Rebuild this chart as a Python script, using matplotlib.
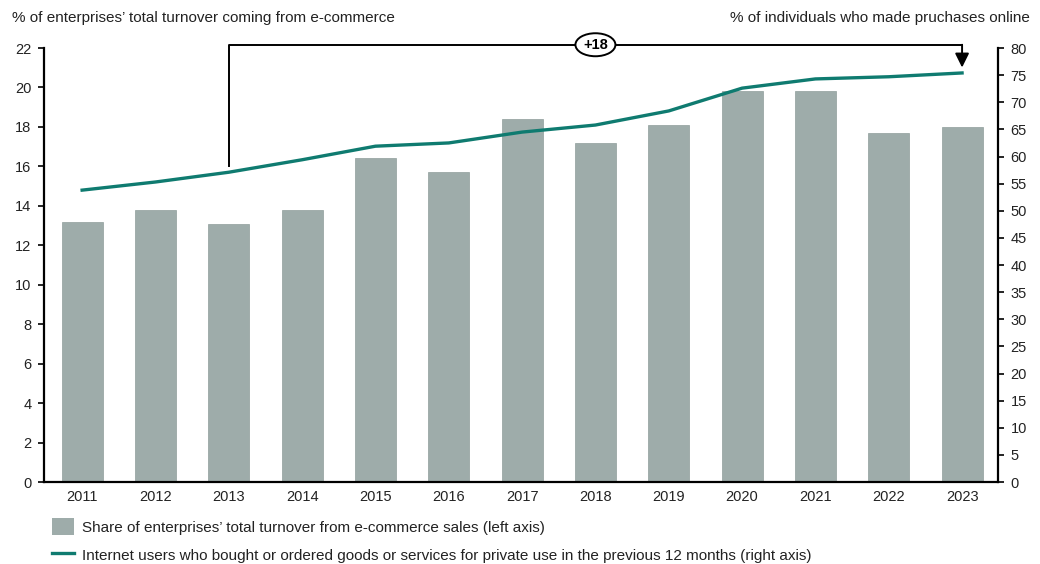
import matplotlib
matplotlib.use("Agg")
import matplotlib.pyplot as plt
from matplotlib.patches import Patch, Ellipse
from matplotlib.lines import Line2D
import numpy as np

plt.rcParams['font.family'] = ['Liberation Sans', 'DejaVu Sans']

years = ["2011", "2012", "2013", "2014", "2015", "2016", "2017",
         "2018", "2019", "2020", "2021", "2022", "2023"]
turnover_share = [13.2, 13.8, 13.1, 13.8, 16.4, 15.7, 18.4,
                  17.2, 18.1, 19.8, 19.8, 17.7, 18.0]
online_buyers = [53.8, 55.3, 57.1, 59.4, 61.9, 62.5, 64.5,
                 65.8, 68.4, 72.6, 74.3, 74.7, 75.4]
left_ticks = list(range(0, 23, 2))
right_ticks = list(range(0, 81, 5))

bar_color = '#9EACAA'
line_color = '#0F7B70'
fs = 10.5
fs_text = 11

fig = plt.figure(figsize=(10.4, 5.64), dpi=100)
W, H = 1040, 564
ax = fig.add_axes([44 / W, (H - 482) / H, (998 - 44) / W, (482 - 48) / H])
ax2 = ax.twinx()

x = np.arange(len(years))
ax.bar(x, turnover_share, width=0.56, color=bar_color, edgecolor='#8F9E9B',
       linewidth=0.5, zorder=2)
ax2.plot(x, online_buyers, color=line_color, lw=2.4, zorder=3)

ax.set_xlim(-0.52, len(years) - 0.51)
ax.set_ylim(0, 22)
ax2.set_ylim(0, 80)
ax.set_yticks(left_ticks)
ax2.set_yticks(right_ticks)
ax.set_xticks(x)
ax.set_xticklabels(years)

for a in (ax, ax2):
    a.spines['top'].set_visible(False)
    for s in a.spines.values():
        s.set_linewidth(1.6)
        s.set_color('black')
ax.spines['right'].set_visible(False)
ax2.spines['left'].set_visible(False)
ax2.spines['bottom'].set_visible(False)

ax.tick_params(axis='y', direction='out', length=4, width=1.2, pad=5,
               labelsize=fs, colors='black', labelcolor='#222222')
ax.tick_params(axis='x', length=0, pad=6, labelsize=fs, labelcolor='#222222')
ax2.tick_params(axis='y', direction='out', length=4, width=1.2, pad=5,
                labelsize=fs, labelcolor='#222222')

# Bracket annotation showing the 2013 -> 2023 change
y_top = 80.6
i0, i1 = 2, 12
change = round(online_buyers[i1] - online_buyers[i0])
ax2.plot([i0, i0, i1], [58.3, y_top, y_top],
         color='black', lw=1.4, zorder=4, clip_on=False)
ax2.annotate('', xy=(i1, 76.4), xytext=(i1, y_top),
             arrowprops=dict(arrowstyle='-|>,head_width=0.42,head_length=0.85',
                             mutation_scale=10, color='black', lw=1.4,
                             shrinkA=0, shrinkB=0),
             zorder=5, annotation_clip=False)

# Oval label sitting on the bracket
xc = (i0 + i1) / 2
disp = ax2.transData.transform((xc, y_top))
fx, fy = fig.transFigure.inverted().transform(disp)
fig.add_artist(Ellipse((fx, fy), 40 / W, 23 / H, transform=fig.transFigure,
                       facecolor='white', edgecolor='black', lw=1.4, zorder=6))
fig.text(fx, fy, f"+{change}", ha='center', va='center', fontsize=10.5,
         fontweight='bold', zorder=7)

fig.text(12 / W, 1 - 18 / H, "% of enterprises\u2019 total turnover coming from e-commerce",
         ha='left', va='center', fontsize=fs_text, color='#222222')
fig.text(1030 / W, 1 - 18 / H, "% of individuals who made pruchases online",
         ha='right', va='center', fontsize=fs_text, color='#222222')

handles = [Patch(facecolor=bar_color, edgecolor='none'),
           Line2D([0], [0], color=line_color, lw=2.4)]
labels = ["Share of enterprises\u2019 total turnover from e-commerce sales (left axis)",
          "Internet users who bought or ordered goods or services for private use in the previous 12 months (right axis)"]
fig.legend(handles, labels, loc='upper left', bbox_to_anchor=(52 / W, 1 - 518 / H),
           frameon=False, fontsize=fs_text, handlelength=1.45, handleheight=1.35,
           handletextpad=0.5, labelspacing=0.75, borderaxespad=0, borderpad=0,
           labelcolor='#222222')

fig.savefig("out.png", dpi=100, facecolor='white')
